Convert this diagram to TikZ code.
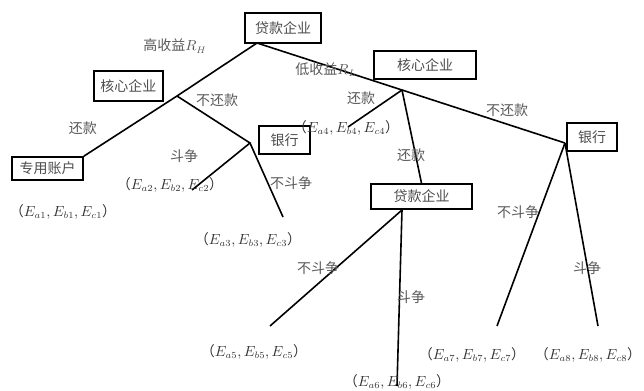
\documentclass[tikz,border=0pt]{standalone}
\usepackage{fontspec}
\newfontfamily\cjk{Noto Sans CJK SC}

\tikzset{
	box/.style={draw, line width=1.2pt, inner sep=0pt, font=\cjk\fontsize{10.5}{12}\selectfont, text=black!70},
	lbl/.style={inner sep=0pt, font=\cjk\fontsize{10.5}{12}\selectfont, text=black!65},
	pay/.style={inner sep=0pt, font=\cjk\fontsize{10.5}{12}\selectfont, text=black!80},
	branch/.style={line width=1.2pt}
}

\begin{document}
\begin{tikzpicture}[x=0.75pt,y=0.75pt,yscale=-1,xscale=1]
				\useasboundingbox (0,0) rectangle (644,390);
				
				%Shape: Rectangle [id:loan1] 
				\draw (283,28) node [box, minimum width=57pt, minimum height=22.5pt] (loan1) {贷款企业};
				%Shape: Rectangle [id:core1] 
				\draw (128.5,86) node [box, minimum width=51.75pt, minimum height=22.5pt] (core1) {核心企业};
				%Shape: Rectangle [id:acct] 
				\draw (47.5,168.5) node [box, minimum width=53.25pt, minimum height=17.25pt] (acct) {专用账户};
				%Shape: Rectangle [id:bank1] 
				\draw (284.5,140) node [box, minimum width=38.25pt, minimum height=21pt] (bank1) {银行};
				%Shape: Rectangle [id:core2] 
				\draw (425,65) node [box, minimum width=76.5pt, minimum height=21pt] (core2) {核心企业};
				%Shape: Rectangle [id:loan2] 
				\draw (421.5,196.5) node [box, minimum width=75.75pt, minimum height=18.75pt] (loan2) {贷款企业};
				%Shape: Rectangle [id:bank2] 
				\draw (592,137) node [box, minimum width=37.5pt, minimum height=21pt] (bank2) {银行};
				
				% branch points and free ends
				\coordinate (root) at (257,43);
				\coordinate (c1) at (177,96);
				\coordinate (b1) at (250,143);
				\coordinate (c2) at (402,90);
				\coordinate (b2) at (565,143);
				\coordinate (l2) at (402,210);
				\coordinate (t2) at (192,190);
				\coordinate (t3) at (283,217);
				\coordinate (t4) at (348,127);
				\coordinate (t5) at (270,326);
				\coordinate (t6) at (397,386);
				\coordinate (t7) at (497,326);
				\coordinate (t8) at (598,326);
				
				%Straight Lines [id:high] 
				\draw [branch] (root) -- (c1) -- (acct.north east) ;
				%Straight Lines [id:nopay1] 
				\draw [branch] (c1) -- (b1) -- (t2) ;
				\draw [branch] (b1) -- (t3) ;
				%Straight Lines [id:low] 
				\draw [branch] (root) -- (c2) -- (b2) ;
				\draw [branch] (c2) -- (t4) ;
				\draw [branch] (c2) -- (loan2.north) ;
				%Straight Lines [id:loan2 fight] 
				\draw [branch] (l2) -- (t5) ;
				\draw [branch] (l2) -- (t6) ;
				%Straight Lines [id:bank2 fight] 
				\draw [branch] (b2) -- (t7) ;
				\draw [branch] (b2) -- (t8) ;
				
				% Text Node
				\draw (175,46) node [lbl] (hi) {高收益$R_H$};
				% Text Node
				\draw (83,128) node [lbl] (repay1) {还款};
				% Text Node
				\draw (217,100) node [lbl] (norepay1) {不还款};
				% Text Node
				\draw (184,156) node [lbl] (fight1) {斗争};
				% Text Node
				\draw (291,183) node [lbl] (nofight1) {不斗争};
				% Text Node
				\draw (326,70) node [lbl] (lo) {低收益$R_L$};
				% Text Node
				\draw (361,98) node [lbl] (repay2) {还款};
				% Text Node
				\draw (507,110) node [lbl] (norepay2) {不还款};
				% Text Node
				\draw (411,155) node [lbl] (repay3) {还款};
				% Text Node
				\draw (318,268) node [lbl] (nofight2) {不斗争};
				% Text Node
				\draw (411,297) node [lbl] (fight2) {斗争};
				% Text Node
				\draw (518,212) node [lbl] (nofight3) {不斗争};
				% Text Node
				\draw (587,268) node [lbl] (fight3) {斗争};
				
				% Text Node
				\draw (63,212) node [pay] (e1) {（$E_{a1},E_{b1},E_{c1}$）};
				% Text Node
				\draw (170,185) node [pay] (e2) {（$E_{a2},E_{b2},E_{c2}$）};
				% Text Node
				\draw (248,240) node [pay] (e3) {（$E_{a3},E_{b3},E_{c3}$）};
				% Text Node
				\draw (346,128) node [pay] (e4) {（$E_{a4},E_{b4},E_{c4}$）};
				% Text Node
				\draw (254,352) node [pay] (e5) {（$E_{a5},E_{b5},E_{c5}$）};
				% Text Node
				\draw (397,382) node [pay] (e6) {（$E_{a6},E_{b6},E_{c6}$）};
				% Text Node
				\draw (472,355) node [pay] (e7) {（$E_{a7},E_{b7},E_{c7}$）};
				% Text Node
				\draw (588,355) node [pay] (e8) {（$E_{a8},E_{b8},E_{c8}$）};
				
			\end{tikzpicture}
\end{document}
